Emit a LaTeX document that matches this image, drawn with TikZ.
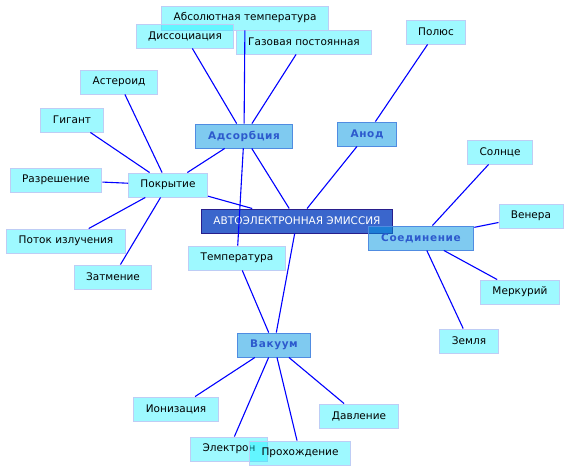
\documentclass[tikz,border=0pt]{standalone}
\usepackage{fontspec}
\setmainfont{DejaVu Sans}
\definecolor{cianok}{RGB}{0, 240, 255}
\definecolor{bordek}{RGB}{190, 205, 245}
\definecolor{celestek}{RGB}{0, 150, 225}
\definecolor{bordecatk}{RGB}{80, 140, 225}
\definecolor{textocatk}{RGB}{45, 90, 205}
\definecolor{azulk}{RGB}{58, 102, 204}
\definecolor{azulosck}{RGB}{40, 30, 140}
\usepackage{tikz}

\begin{document}
\begin{tikzpicture}[x=1pt,y=-1pt,
    hoja/.style={draw=bordek,line width=0.9pt,fill=cianok,fill opacity=0.38,text opacity=1,
          minimum height=24pt,inner xsep=12pt,font=\fontsize{10.5}{12}\selectfont},
    rama/.style={draw=bordecatk,line width=0.9pt,fill=celestek,fill opacity=0.5,text opacity=1,
          minimum height=24pt,inner xsep=13pt,text=textocatk,
          font=\fontsize{10.5}{12}\selectfont\bfseries\addfontfeature{LetterSpace=6}},
    enlace/.style={blue,line width=1.1pt}]
    \useasboundingbox (0,0) rectangle (569,472);
    % centro
    \node[draw=azulosck,line width=1pt,fill=azulk,text=white,minimum height=24pt,inner xsep=12pt,
          font=\fontsize{10.5}{12}\selectfont] (e) at (297,221) {АВТОЭЛЕКТРОННАЯ ЭМИССИЯ};
    % ramas
    \node[rama] (ads) at (244,136) {Адсорбция};
    \node[rama] (an) at (367,134) {Анод};
    \node[rama] (vak) at (274,345) {Вакуум};
    \node[rama] (so) at (421,238) {Соединение};
    \node[hoja] (pok) at (168,185) {Покрытие};
    % hojas
    \node[hoja] (abs) at (245,18) {Абсолютная температура};
    \node[hoja] (dis) at (185,36) {Диссоциация};
    \node[hoja] (gaz) at (304,42) {Газовая постоянная};
    \node[hoja] (tem) at (237,258) {Температура};
    \node[hoja] (pol) at (436,32) {Полюс};
    \node[hoja] (ast) at (119,82) {Астероид};
    \node[hoja] (gig) at (72,120) {Гигант};
    \node[hoja] (raz) at (56,180) {Разрешение};
    \node[hoja] (pot) at (66,241) {Поток излучения};
    \node[hoja] (zat) at (113,277) {Затмение};
    \node[hoja] (sol) at (500,152) {Солнце};
    \node[hoja] (ven) at (531,216) {Венера};
    \node[hoja] (mer) at (520,292) {Меркурий};
    \node[hoja] (zem) at (469,341) {Земля};
    \node[hoja] (ion) at (176,409) {Ионизация};
    \node[hoja] (dav) at (359,416) {Давление};
    \node[hoja] (ele) at (229,449) {Электрон};
    \node[hoja] (pro) at (300,453) {Прохождение};
    % enlaces
    \draw[enlace] (e)--(ads) (e)--(an) (e)--(pok) (e)--(vak);
    \draw[enlace] (ads)--(abs) (ads)--(dis) (ads)--(gaz) (ads)--(pok) (ads)--(tem);
    \draw[enlace] (an)--(pol);
    \draw[enlace] (pok)--(ast) (pok)--(gig) (pok)--(raz) (pok)--(pot) (pok)--(zat);
    \draw[enlace] (so)--(sol) (so)--(ven) (so)--(mer) (so)--(zem);
    \draw[enlace] (vak)--(tem) (vak)--(ion) (vak)--(dav) (vak)--(ele) (vak)--(pro);
\end{tikzpicture}
\end{document}
